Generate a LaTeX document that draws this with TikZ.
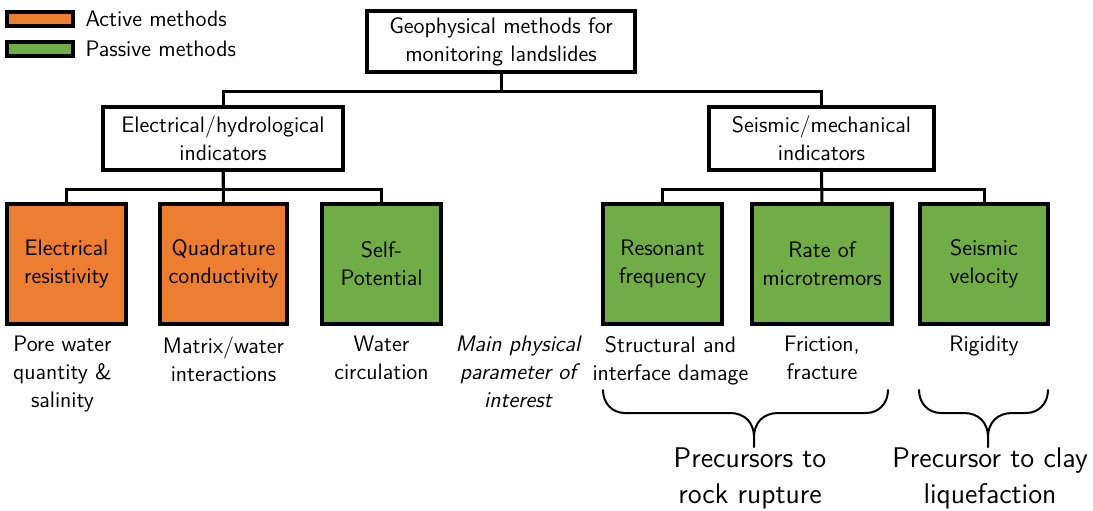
\documentclass[tikz,border=0pt]{standalone}
\usetikzlibrary{positioning}
\definecolor{activeorange}{HTML}{ED7D31}
\definecolor{passivegreen}{HTML}{70AD47}

\begin{document}
\begin{tikzpicture}[
        x=0.5pt, y=-0.5pt,
        font=\fontsize{11.2}{14}\selectfont\sffamily,
        hbox/.style={draw, line width=2pt, fill=white, align=center, inner sep=0pt},
        mbox/.style={draw, line width=2pt, align=center,
                     minimum width=59.5pt, minimum height=60pt, inner sep=0pt},
        active/.style={mbox, fill=activeorange},
        passive/.style={mbox, fill=passivegreen},
        legbox/.style={draw, line width=2pt, minimum width=33pt, minimum height=7pt, inner sep=0pt},
        param/.style={align=center, inner sep=1pt},
        link/.style={line width=1.5pt},
        brace/.style={line width=1pt, line cap=round},
        big/.style={align=center, inner sep=0pt, font=\fontsize{14.2}{18}\selectfont\sffamily}
    ]
        \useasboundingbox (0,0) rectangle (1093,510);

        % legend
        \node[legbox, fill=activeorange] (la) at (40,19) {};
        \node[legbox, fill=passivegreen] (lp) at (40,48.5) {};
        \node[right=1.75pt of la] (lat) {Active methods};
        \node[right=1.75pt of lp] (lpt) {Passive methods};

        % tree
        \node[hbox, minimum width=134pt, minimum height=30.5pt] (geo) at (501,41.5) {Geophysical methods for\\monitoring landslides};
        \node[hbox, minimum width=120pt, minimum height=31.5pt] (elec) at (223,138.5) {Electrical/hydrological\\indicators};
        \node[hbox, minimum width=112.5pt, minimum height=31.5pt] (seis) at (821.5,138.5) {Seismic/mechanical\\indicators};

        \node[active] (er) at (66.5,264) {Electrical\\resistivity};
        \node[active, minimum width=63.5pt] (qc) at (223.5,264) {Quadrature\\conductivity};
        \node[passive] (sp) at (381.5,264) {Self-\\Potential};
        \node[passive] (rf) at (662.5,264) {Resonant\\frequency};
        \node[passive, minimum width=70pt] (rm) at (822,264) {Rate of\\microtremors};
        \node[passive, minimum width=64pt] (sv) at (984,264) {Seismic\\velocity};

        \draw[link] (geo.south) -- ++(0,17) -| (elec.north);
        \draw[link] (geo.south) -- ++(0,17) -| (seis.north);
        \draw[link] (elec.south) -- ++(0,17) -| (er.north);
        \draw[link] (elec.south) -- (qc.north);
        \draw[link] (elec.south) -- ++(0,17) -| (sp.north);
        \draw[link] (seis.south) -- ++(0,17) -| (rf.north);
        \draw[link] (seis.south) -- (rm.north);
        \draw[link] (seis.south) -- ++(0,17) -| (sv.north);

        % physical parameters
        \node[param, below=4pt of er, xshift=-2pt] (pw) {Pore water\\quantity \&\\salinity};
        \node[param, below=4pt of qc] (mw) {Matrix/water\\interactions};
        \node[param, below=4pt of sp] (wc) {Water\\circulation};
        \node[param, anchor=north, font=\fontsize{11.2}{14}\selectfont\sffamily\itshape] (mpp) at (518,334) {Main physical\\parameter of\\interest};
        \node[param, below=4pt of rf, xshift=4pt] (sd) {Structural and\\interface damage};
        \node[param, below=4pt of rm] (ff) {Friction,\\fracture};
        \node[param, below=4pt of sv] (rg) {Rigidity};

        % braces
        \draw[brace] (603,390) .. controls (603,403) and (612,413) .. (625,413) -- (730,413)
            .. controls (745,413) and (754,423) .. (754,437) -- (754,447);
        \draw[brace] (888,390) .. controls (888,403) and (879,413) .. (866,413) -- (778,413)
            .. controls (763,413) and (754,423) .. (754,437);
        \draw[brace] (919,390) .. controls (919,403) and (928,413) .. (941,413) -- (964,413)
            .. controls (979,413) and (988,423) .. (988,437) -- (988,447);
        \draw[brace] (1048,390) .. controls (1048,403) and (1039,413) .. (1026,413) -- (1012,413)
            .. controls (997,413) and (988,423) .. (988,437);

        \node[big, anchor=base] (prr) at (750,503) {Precursors to\\rock rupture};
        \node[big, anchor=base] (pcl) at (990,503) {Precursor to clay\\liquefaction};
    \end{tikzpicture}
\end{document}
